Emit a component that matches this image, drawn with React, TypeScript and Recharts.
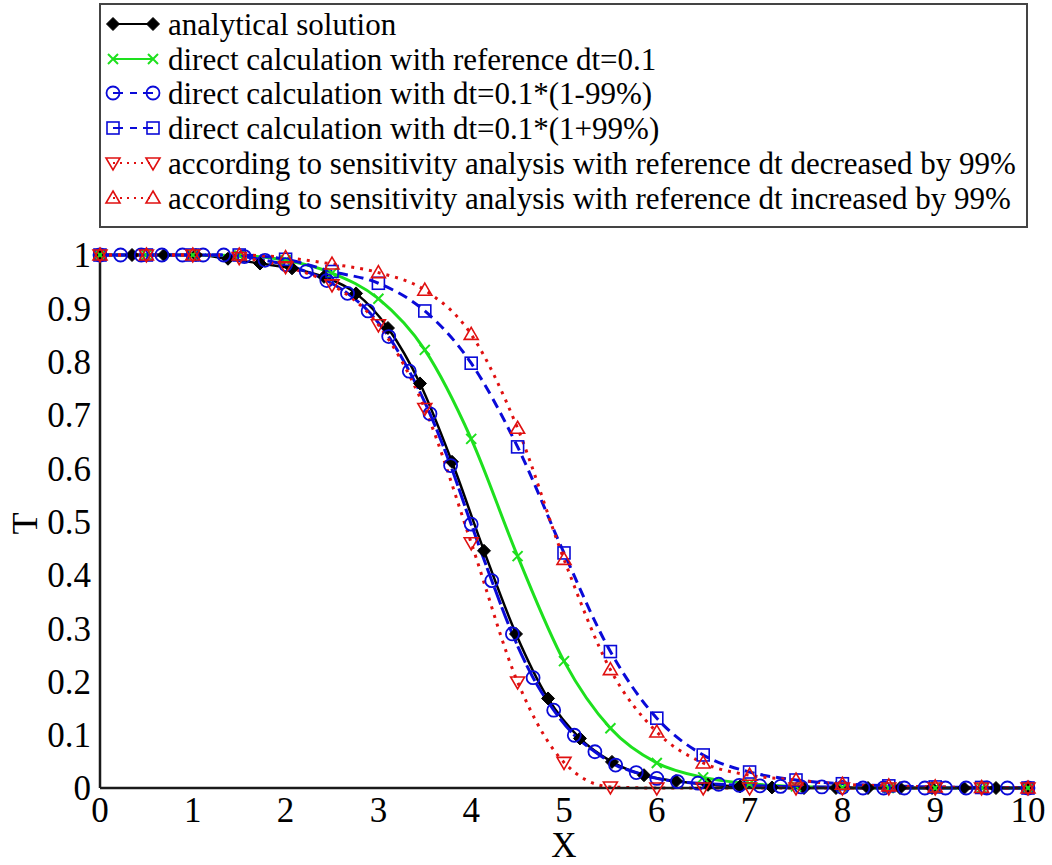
import React from 'react';
import { LineChart, Line, XAxis, YAxis, Legend } from 'recharts';

// ---------- data ----------
const analyticalX = [0, 0.345, 0.69, 1.034, 1.379, 1.724, 2.069, 2.414, 2.759, 3.103, 3.448, 3.793, 4.138, 4.483, 4.828, 5.172, 5.517, 5.862, 6.207, 6.552, 6.897, 7.241, 7.586, 7.931, 8.276, 8.621, 8.966, 9.31, 9.655, 10];
const analyticalT = [1, 1, 1, 1, 0.993, 0.984, 0.975, 0.959, 0.928, 0.863, 0.759, 0.612, 0.445, 0.289, 0.168, 0.093, 0.049, 0.024, 0.013, 0.006, 0.003, 0.001, 0, 0, 0, 0, 0, 0, 0, 0];

const halfStepX = [0, 0.5, 1, 1.5, 2, 2.5, 3, 3.5, 4, 4.5, 5, 5.5, 6, 6.5, 7, 7.5, 8, 8.5, 9, 9.5, 10];
const directRefT = [1, 1, 1, 0.999, 0.99, 0.966, 0.918, 0.822, 0.655, 0.435, 0.238, 0.112, 0.047, 0.02, 0.008, 0.003, 0.001, 0, 0, 0, 0];
const directPlusT = [1, 1, 1, 1, 0.992, 0.969, 0.947, 0.895, 0.797, 0.64, 0.441, 0.256, 0.131, 0.062, 0.03, 0.015, 0.008, 0.004, 0.002, 0.001, 0];
const sensDecreasedT = [1, 1, 1, 0.995, 0.978, 0.944, 0.869, 0.712, 0.46, 0.199, 0.048, 0.002, 0, 0, 0, 0, 0, 0, 0, 0, 0];
const sensIncreasedT = [1, 1, 1, 1, 0.995, 0.983, 0.967, 0.934, 0.851, 0.675, 0.429, 0.222, 0.105, 0.047, 0.024, 0.015, 0.007, 0.004, 0.002, 0.001, 0];

const fineX = [0, 0.222, 0.444, 0.667, 0.889, 1.111, 1.333, 1.556, 1.778, 2, 2.222, 2.444, 2.667, 2.889, 3.111, 3.333, 3.556, 3.778, 4, 4.222, 4.444, 4.667, 4.889, 5.111, 5.333, 5.556, 5.778, 6, 6.222, 6.444, 6.667, 6.889, 7.111, 7.333, 7.556, 7.778, 8, 8.222, 8.444, 8.667, 8.889, 9.111, 9.333, 9.556, 9.778, 10];
const directMinusT = [1, 1, 1, 1, 1, 1, 1, 0.997, 0.99, 0.982, 0.969, 0.952, 0.928, 0.895, 0.847, 0.782, 0.702, 0.605, 0.495, 0.389, 0.289, 0.207, 0.146, 0.099, 0.068, 0.043, 0.029, 0.018, 0.012, 0.009, 0.007, 0.005, 0.004, 0.003, 0.002, 0.002, 0.001, 0, 0, 0, 0, 0, 0, 0, 0, 0];

const xMajor = [0, 1, 2, 3, 4, 5, 6, 7, 8, 9, 10];
const xMinor = [0.5, 1.5, 2.5, 3.5, 4.5, 5.5, 6.5, 7.5, 8.5, 9.5];
const xTickLabels = ['0', '1', '2', '3', '4', '5', '6', '7', '8', '9', '10'];
const yMajor = [0, 0.1, 0.2, 0.3, 0.4, 0.5, 0.6, 0.7, 0.8, 0.9, 1];
const yMinor = [0.05, 0.15, 0.25, 0.35, 0.45, 0.55, 0.65, 0.75, 0.85, 0.95];
const yTickLabels = ['0', '0.1', '0.2', '0.3', '0.4', '0.5', '0.6', '0.7', '0.8', '0.9', '1'];

const seriesNames = [
  'analytical solution',
  'direct calculation with reference dt=0.1',
  'direct calculation with dt=0.1*(1-99%)',
  'direct calculation with dt=0.1*(1+99%)',
  'according to sensitivity analysis with reference dt decreased by 99%',
  'according to sensitivity analysis with reference dt increased by 99%',
];

const zip = (xs: number[], ts: number[]) => xs.map((x, i) => ({ x, t: ts[i] }));

// ---------- styles ----------
const FONT = '"Liberation Serif", "Times New Roman", Times, serif';
const AXIS = '#1a1a1a';
const BLACK = '#000000';
const GREEN = '#1ee01e';
const BLUE = '#0a0ad8';
const RED = '#e01010';

type Kind = 'diamond' | 'x' | 'circle' | 'square' | 'down' | 'up';

const series: { kind: Kind; color: string; dash?: string; legendDash?: string; width: number }[] = [
  { kind: 'diamond', color: BLACK, width: 2.5 },
  { kind: 'x', color: GREEN, width: 3 },
  { kind: 'circle', color: BLUE, dash: '18 3', legendDash: '10 7 7 6 10', width: 3 },
  { kind: 'square', color: BLUE, dash: '10 6', legendDash: '10 7 7 6 10', width: 3 },
  { kind: 'down', color: RED, dash: '3 6', legendDash: '2 5', width: 3 },
  { kind: 'up', color: RED, dash: '3 6', legendDash: '2 5', width: 3 },
];

function marker(kind: Kind, cx: number, cy: number, color: string, key?: any) {
  switch (kind) {
    case 'diamond': {
      const s = 6.5;
      return <path key={key} d={`M${cx},${cy - s}L${cx + s},${cy}L${cx},${cy + s}L${cx - s},${cy}Z`} fill={color} stroke={color} strokeWidth={1} />;
    }
    case 'x': {
      const s = 5;
      return (
        <path key={key} d={`M${cx - s},${cy - s}L${cx + s},${cy + s}M${cx - s},${cy + s}L${cx + s},${cy - s}`} stroke={color} strokeWidth={2} fill="none" />
      );
    }
    case 'circle':
      return <circle key={key} cx={cx} cy={cy} r={6.5} fill="none" stroke={color} strokeWidth={1.8} />;
    case 'square':
      return <rect key={key} x={cx - 6} y={cy - 6} width={12} height={12} fill="none" stroke={color} strokeWidth={1.6} />;
    case 'down':
      return <path key={key} d={`M${cx - 7},${cy - 5}L${cx + 7},${cy - 5}L${cx},${cy + 7}Z`} fill="none" stroke={color} strokeWidth={1.6} />;
    case 'up':
    default:
      return <path key={key} d={`M${cx},${cy - 7}L${cx + 7},${cy + 5}L${cx - 7},${cy + 5}Z`} fill="none" stroke={color} strokeWidth={1.6} />;
  }
}

const dotFor = (kind: Kind, color: string) => (p: any) => {
  const { cx, cy, index } = p;
  if (cx == null || cy == null) return <g key={`e${index}`} />;
  return marker(kind, cx, cy, color, `${kind}-${index}`);
};

const LegendBox = () => {
  const W = 929;
  const H = 225;
  const rowY = [21, 56, 90, 125, 160, 195];
  return (
    <svg width={W} height={H} style={{ display: 'block' }}>
      <rect x={1} y={1} width={W - 2} height={H - 2} fill="#fff" stroke="#444" strokeWidth={2} />
      {series.map((s, i) => (
        <g key={i}>
          <line x1={14} y1={rowY[i]} x2={54} y2={rowY[i]} stroke={s.color} strokeWidth={2} strokeDasharray={s.legendDash} />
          {marker(s.kind, 14, rowY[i], s.color)}
          {marker(s.kind, 54, rowY[i], s.color)}
          <text x={69} y={rowY[i]} dy="0.34em" fontFamily={FONT} fontSize={31} fill="#000">
            {seriesNames[i]}
          </text>
        </g>
      ))}
    </svg>
  );
};

const fmtX = (v: number) => {
  const i = xMajor.findIndex((m) => Math.abs(m - v) < 1e-6);
  return i >= 0 ? xTickLabels[i] : '';
};
const fmtY = (v: number) => {
  const i = yMajor.findIndex((m) => Math.abs(m - v) < 1e-6);
  return i >= 0 ? yTickLabels[i] : '';
};

const tickStyle = { fontFamily: FONT, fontSize: 35, fill: '#000', style: { fontFamily: FONT } };

export default function App() {
  const data = [
    zip(analyticalX, analyticalT),
    zip(halfStepX, directRefT),
    zip(fineX, directMinusT),
    zip(halfStepX, directPlusT),
    zip(halfStepX, sensDecreasedT),
    zip(halfStepX, sensIncreasedT),
  ];
  return (
    <div style={{ position: 'absolute', left: 0, top: 0, width: 1052, height: 865, background: '#fff', fontFamily: FONT }}>
      <LineChart width={1052} height={865} margin={{ top: 255, right: 24, bottom: 0, left: 10 }} style={{ fontFamily: FONT }}>
        <XAxis
          xAxisId={0}
          type="number"
          dataKey="x"
          domain={[0, 10]}
          ticks={xMajor}
          tickFormatter={fmtX}
          tick={tickStyle}
          fontFamily={FONT}
          tickLine={false}
          tickSize={0}
          tickMargin={9}
          height={77}
          axisLine={{ stroke: AXIS, strokeWidth: 2.5 }}
          interval={0}
          label={{
            content: (props: any) => {
              const vb = props.viewBox || { x: 100, y: 788, width: 928, height: 77 };
              const x = vb.x + vb.width / 2;
              const y = vb.y + 69;
              return (
                <text x={x} y={y} textAnchor="middle" fontFamily={FONT} fontSize={35} fill="#000">
                  X
                </text>
              );
            },
          }}
        />
        <YAxis
          yAxisId={0}
          type="number"
          domain={[0, 1]}
          ticks={yMajor}
          tickFormatter={fmtY}
          tick={tickStyle}
          fontFamily={FONT}
          tickLine={false}
          tickSize={0}
          tickMargin={9}
          width={90}
          interval={0}
          axisLine={{ stroke: AXIS, strokeWidth: 2.5 }}
          label={{
            content: (props: any) => {
              const vb = props.viewBox || { x: 10, y: 255, width: 90, height: 533 };
              const x = vb.x + 14;
              const y = vb.y + vb.height / 2 + 2;
              return (
                <text x={x} y={y} transform={`rotate(-90 ${x} ${y})`} textAnchor="middle" dy="0.35em" fontFamily={FONT} fontSize={36} fill="#000">
                  T
                </text>
              );
            },
          }}
        />
        {/* inward tick marks on all four sides */}
        <XAxis xAxisId="bMaj" orientation="bottom" mirror type="number" domain={[0, 10]} ticks={xMajor} interval={0} tick={false} tickSize={18} height={0} axisLine={false} tickLine={{ stroke: AXIS, strokeWidth: 2 }} />
        <XAxis xAxisId="bMin" orientation="bottom" mirror type="number" domain={[0, 10]} ticks={xMinor} interval={0} tick={false} tickSize={9} height={0} axisLine={false} tickLine={{ stroke: AXIS, strokeWidth: 2 }} />
        <XAxis xAxisId="tMaj" orientation="top" mirror type="number" domain={[0, 10]} ticks={xMajor} interval={0} tick={false} tickSize={18} height={0} axisLine={{ stroke: AXIS, strokeWidth: 2.5 }} tickLine={{ stroke: AXIS, strokeWidth: 2 }} />
        <XAxis xAxisId="tMin" orientation="top" mirror type="number" domain={[0, 10]} ticks={xMinor} interval={0} tick={false} tickSize={9} height={0} axisLine={false} tickLine={{ stroke: AXIS, strokeWidth: 2 }} />
        <YAxis yAxisId="lMaj" orientation="left" mirror type="number" domain={[0, 1]} ticks={yMajor} interval={0} tick={false} tickSize={18} width={0} axisLine={false} tickLine={{ stroke: AXIS, strokeWidth: 2 }} />
        <YAxis yAxisId="lMin" orientation="left" mirror type="number" domain={[0, 1]} ticks={yMinor} interval={0} tick={false} tickSize={9} width={0} axisLine={false} tickLine={{ stroke: AXIS, strokeWidth: 2 }} />
        <YAxis yAxisId="rMaj" orientation="right" mirror type="number" domain={[0, 1]} ticks={yMajor} interval={0} tick={false} tickSize={18} width={0} axisLine={{ stroke: AXIS, strokeWidth: 2.5 }} tickLine={{ stroke: AXIS, strokeWidth: 2 }} />
        <YAxis yAxisId="rMin" orientation="right" mirror type="number" domain={[0, 1]} ticks={yMinor} interval={0} tick={false} tickSize={9} width={0} axisLine={false} tickLine={{ stroke: AXIS, strokeWidth: 2 }} />

        {series.map((s, i) => (
          <Line
            key={i}
            xAxisId={0}
            yAxisId={0}
            data={data[i]}
            dataKey="t"
            name={seriesNames[i]}
            type="monotone"
            stroke={s.color}
            strokeWidth={s.width}
            strokeDasharray={s.dash}
            dot={dotFor(s.kind, s.color)}
            activeDot={false}
            isAnimationActive={false}
          />
        ))}
        <Legend
          layout="horizontal"
          verticalAlign="middle"
          align="center"
          width={929}
          height={225}
          wrapperStyle={{ left: 99, top: 3, width: 929, height: 225 }}
          content={() => <LegendBox />}
        />
      </LineChart>
    </div>
  );
}
